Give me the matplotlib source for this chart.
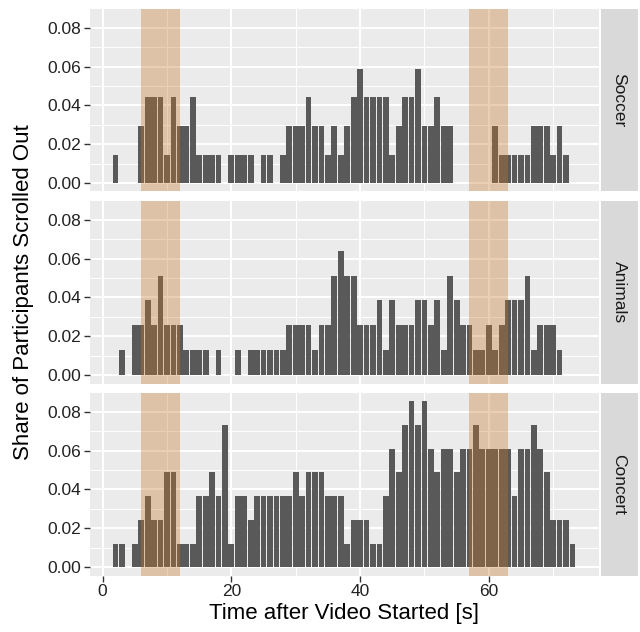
import numpy as np
import matplotlib
matplotlib.use("Agg")
import matplotlib.pyplot as plt

plt.rcParams['font.family'] = ['Liberation Sans', 'DejaVu Sans']

# seconds after video start (bins of 1 s)
seconds = np.arange(1, 74)

# participants who scrolled out in each second, per video
soccer = [0, 1, 0, 0, 0, 2, 3, 3, 3, 1,
          3, 2, 2, 3, 1, 1, 1, 1, 0, 1,
          1, 1, 1, 0, 1, 1, 0, 1, 2, 2,
          2, 3, 2, 2, 1, 2, 1, 2, 3, 4,
          3, 3, 3, 3, 1, 2, 3, 3, 4, 2,
          2, 3, 2, 2, 0, 0, 0, 0, 0, 0,
          2, 1, 1, 1, 1, 1, 2, 2, 2, 1,
          2, 1, 0]
animals = [0, 0, 1, 0, 2, 2, 3, 2, 4, 2,
           2, 2, 1, 1, 1, 1, 0, 1, 0, 0,
           1, 0, 1, 1, 1, 1, 1, 1, 2, 2,
           2, 2, 1, 2, 2, 4, 5, 4, 4, 2,
           2, 2, 3, 1, 3, 2, 2, 2, 3, 3,
           2, 3, 1, 4, 3, 2, 2, 1, 1, 2,
           1, 2, 3, 3, 3, 4, 1, 2, 2, 2,
           1, 0, 0]
concert = [0, 1, 1, 0, 1, 2, 3, 2, 2, 4,
           4, 1, 1, 1, 3, 3, 4, 3, 6, 1,
           3, 3, 2, 3, 3, 3, 3, 3, 3, 4,
           3, 4, 4, 4, 3, 3, 3, 1, 2, 2,
           2, 1, 1, 3, 5, 4, 6, 7, 6, 7,
           5, 4, 5, 5, 4, 5, 5, 6, 5, 5,
           5, 5, 5, 3, 5, 5, 6, 5, 4, 2,
           2, 2, 1]

videos = ["Soccer", "Animals", "Concert"]
counts = [soccer, animals, concert]
participants = [68, 78, 82]

# highlighted intervals [s]
highlights = [(6, 12), (57, 63)]

W, H = 640, 632
fig = plt.figure(figsize=(W / 100, H / 100), dpi=100)

px_left, px_right = 89.5, 598.5
strip_l, strip_r = 600.5, 637.5
tops = [9, 201, 393]
ph = 182.5

shares = [np.array(c) / n for c, n in zip(counts, participants)]
ymax = max(s.max() for s in shares)
bw = 0.9
used = seconds[np.any([s > 0 for s in shares], axis=0)]
xlo, xhi = used.min() - bw / 2, used.max() + bw / 2
xpad = (xhi - xlo) * 0.05
ylim = (-ymax * 0.05, ymax * 1.05)

for i, (name, share) in enumerate(zip(videos, shares)):
    top = tops[i]
    ax = fig.add_axes([px_left / W, 1 - (top + ph) / H,
                       (px_right - px_left) / W, ph / H])
    ax.set_facecolor('#EBEBEB')
    ax.bar(seconds, share, width=bw, color='#595959', zorder=2)
    for a, b in highlights:
        ax.axvspan(a, b, color='#C8782A', alpha=0.35, lw=0, zorder=3)
    ax.set_xlim(xlo - xpad, xhi + xpad)
    ax.set_ylim(*ylim)
    ax.set_xticks([0, 20, 40, 60])
    ax.set_xticks([10, 30, 50, 70], minor=True)
    ax.set_yticks([0, 0.02, 0.04, 0.06, 0.08])
    ax.set_yticks([0.01, 0.03, 0.05, 0.07], minor=True)
    ax.yaxis.set_major_formatter(matplotlib.ticker.FormatStrFormatter('%.2f'))
    ax.grid(which='major', color='white', lw=1.4, zorder=1)
    ax.grid(which='minor', color='white', lw=0.7, zorder=1)
    ax.set_axisbelow(True)
    for sp in ax.spines.values():
        sp.set_visible(False)
    ax.tick_params(which='major', length=4, width=1, color='#333333',
                   labelsize=12.5, labelcolor='#222222', pad=2)
    ax.tick_params(which='minor', length=0)
    if i < 2:
        ax.tick_params(axis='x', which='both', length=0, labelbottom=False)
    else:
        ax.set_xlabel("Time after Video Started [s]", fontsize=16, labelpad=3)

    # facet strip
    sax = fig.add_axes([strip_l / W, 1 - (top + ph) / H,
                        (strip_r - strip_l) / W, ph / H])
    sax.set_facecolor('#D9D9D9')
    sax.set_xticks([])
    sax.set_yticks([])
    for sp in sax.spines.values():
        sp.set_visible(False)
    sax.text(0.5, 0.5, name, rotation=-90, ha='center', va='center',
             fontsize=12.5, color='#1A1A1A', transform=sax.transAxes)

fig.text(24 / W, 1 - (tops[0] + (tops[2] + ph - tops[0]) / 2) / H,
         "Share of Participants Scrolled Out", rotation=90,
         ha='center', va='center', fontsize=16)

fig.savefig("out.png", dpi=100)
